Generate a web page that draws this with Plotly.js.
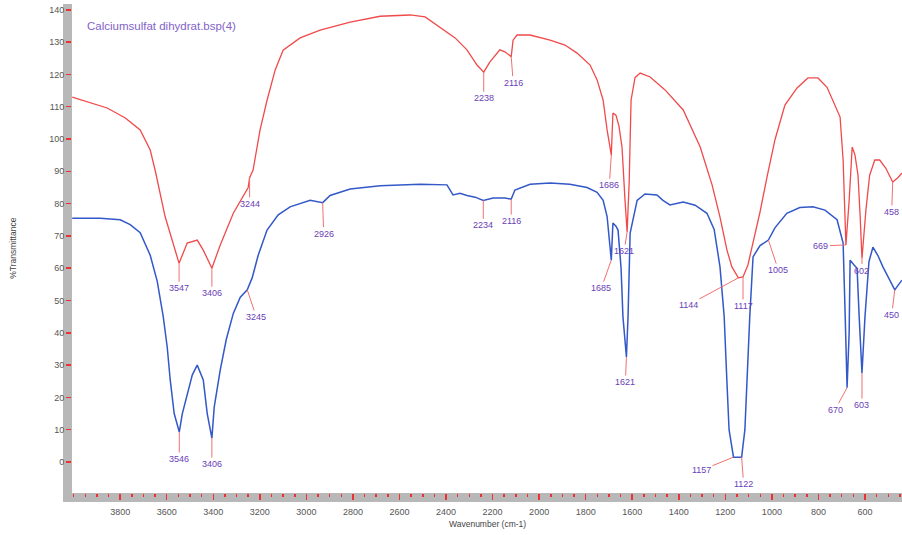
<!DOCTYPE html>
<html>
<head>
<meta charset="utf-8">
<script src="https://cdn.plot.ly/plotly-3.0.1.min.js"></script>
<style>html,body{margin:0;padding:0;background:#fff;}#chart{width:902px;height:535px;}</style>
</head>
<body>
<div id="chart"></div>
<script>
// Red spectrum (upper)
const redWn = [4006,3856,3778,3714,3671,3650,3607,3547,3512,3469,3443,3406,3370,3314,3250,3244,3229,3199,3169,3134,3100,3027,2941,2812,2683,2554,2490,2426,2361,2310,2267,2238,2212,2169,2147,2120,2112,2095,2039,1953,1889,1837,1781,1751,1725,1708,1690,1683,1670,1657,1644,1631,1622,1613,1605,1588,1566,1523,1459,1381,1308,1257,1223,1193,1172,1144,1124,1103,1081,1051,1021,987,944,892,845,802,763,729,707,694,682,668,655,643,630,621,613,596,580,558,537,511,481,459,441];
const redT  = [113,109.6,106.5,102.8,96.6,90.4,76,61.5,67.8,68.7,65.6,60,67.2,77,85,88,90.4,102.8,112,121.4,127.5,131.3,133.7,136.2,138,138.4,137.8,134.7,131.3,127.6,122.9,120.7,123.8,127.6,127,125.5,130.6,132.2,132.2,130.6,129.1,126.6,122.9,118.3,112,102.8,95,108,107.4,104,97.5,81,71.2,87,112,119,120.4,119.2,115.2,109,97.5,85.8,75.8,65.6,60.4,57,57.3,61,67.8,77.4,88.2,99.7,110.5,115.8,118.9,118.9,116,110.5,106.8,93.5,67.2,81,97.5,95,88.8,76.5,63,78,88.8,93.5,93.5,91,86.7,88,89.5];

// Blue spectrum (lower)
const blueWn = [4006,3886,3800,3757,3714,3671,3641,3615,3598,3585,3568,3546,3533,3512,3490,3469,3443,3426,3406,3396,3370,3344,3314,3284,3254,3233,3207,3169,3121,3070,2984,2930,2898,2812,2683,2511,2396,2370,2340,2310,2275,2240,2198,2147,2120,2104,2039,1953,1868,1794,1751,1725,1708,1690,1683,1670,1661,1648,1640,1625,1618,1609,1579,1545,1494,1468,1438,1381,1330,1279,1248,1223,1205,1193,1184,1165,1130,1116,1108,1095,1081,1051,1015,987,936,880,824,772,720,694,685,677,668,664,647,634,625,613,600,583,566,545,523,493,472,455,441];
const blueT  = [75.5,75.5,75,73.5,71,64,56,45,35.6,25.4,15,9.3,15,21,27,30,25.4,15,7.4,17,28.5,38,46,51,53.3,57,64,71.8,76.5,79,81,80.3,82.5,84.5,85.5,86,85.8,82.7,83.2,82.5,82,81,81.7,81.7,81.4,84.2,86,86.4,86,85,83.5,81,76,62.5,74,73,71.8,60,45,32.5,45,70.9,81,83,82.7,81,79.6,80.5,79.5,77,72,60.4,45,24.5,10,1.5,1.5,10,25,45,63.5,67,68.7,72.5,77,78.8,79,78,75,67.8,45,23,40,62.5,61,60,45,27.5,45,62,66.5,64,60.4,56,53.3,55,56.3];

// Peak labels
const redPeakText = ["3547","3406","3244","2238","2116","1686","1621","1144","1117","669","602","458"];
const redPeakWn   = [3547,3406,3244,2238,2120,1690,1622,1144,1124,682,613,481];
const bluePeakText = ["3546","3406","3245","2926","2234","2116","1685","1621","1157","1122","1005","670","603","450"];
const bluePeakWn   = [3546,3406,3254,2930,2240,2120,1690,1625,1165,1130,1015,677,613,472];

const xTickVals = [3800,3600,3400,3200,3000,2800,2600,2400,2200,2000,1800,1600,1400,1200,1000,800,600];
const yTickVals = [-10,0,10,20,30,40,50,60,70,80,90,100,110,120,130,140];

// label offsets (pixels) – styling only
const redOff  = [[0,25],[0,25],[0,26],[0,26],[2,26],[-2,30],[-3,19],[-50,27],[0,29],[-25,1],[0,12],[-1,30]];
const blueOff = [[0,27],[0,26],[9,27],[1,31],[0,25],[0,22],[-10,28],[-1,25],[-32,13],[2,27],[10,30],[-12,22],[0,32],[-3,25]];

function valAt(wns, ts, w){
  let bi=0, bd=1e9;
  for(let i=0;i<wns.length;i++){const d=Math.abs(wns[i]-w); if(d<bd){bd=d;bi=i;}}
  return ts[bi];
}

const labelFont = {family:'Liberation Sans, Arial, sans-serif', size:9, color:'#6a40b8'};
const annotations = [];
redPeakText.forEach((t,i)=>{
  annotations.push({x:redPeakWn[i], y:valAt(redWn,redT,redPeakWn[i]), xref:'x', yref:'y', text:t,
    showarrow:true, arrowhead:0, arrowwidth:1, arrowcolor:'#f07070', ax:redOff[i][0], ay:redOff[i][1],
    standoff:0, startstandoff:0, font:labelFont});
});
bluePeakText.forEach((t,i)=>{
  annotations.push({x:bluePeakWn[i], y:valAt(blueWn,blueT,bluePeakWn[i]), xref:'x', yref:'y', text:t,
    showarrow:true, arrowhead:0, arrowwidth:1, arrowcolor:'#f07070', ax:blueOff[i][0], ay:blueOff[i][1],
    standoff:0, startstandoff:0, font:labelFont});
});
annotations.push({xref:'paper', yref:'paper', x:0.016, y:0.955, xanchor:'left', yanchor:'middle',
  text:'Calciumsulfat dihydrat.bsp(4)', showarrow:false,
  font:{family:'Liberation Sans, Arial, sans-serif', size:11.5, color:'#8262c8'}});
annotations.push({xref:'paper', yref:'paper', x:-0.072, y:0.5, xanchor:'center', yanchor:'middle',
  text:'%Transmittance', textangle:-90, showarrow:false,
  font:{family:'Liberation Sans, Arial, sans-serif', size:8.5, color:'#444'}});
annotations.push({xref:'paper', yref:'paper', x:0.5, y:-0.063, xanchor:'center', yanchor:'middle',
  text:'Wavenumber (cm-1)', showarrow:false,
  font:{family:'Liberation Sans, Arial, sans-serif', size:8.5, color:'#444'}});

const traces = [
  {x:redWn, y:redT, type:'scatter', mode:'lines', line:{color:'#f04a4a', width:1.3}, hoverinfo:'skip'},
  {x:blueWn, y:blueT, type:'scatter', mode:'lines', line:{color:'#3358c8', width:1.5}, hoverinfo:'skip'}
];

const W = 830, H = 489;
const layout = {
  width:902, height:535,
  margin:{l:72, r:0, t:4, b:42, pad:0},
  paper_bgcolor:'#fff', plot_bgcolor:'#fff',
  showlegend:false,
  xaxis:{range:[4007,441], showgrid:false, zeroline:false, showline:false,
    tickvals:xTickVals, ticktext:xTickVals.map(String), ticks:'outside', ticklen:6, tickwidth:1.5, tickcolor:'#f03030',
    minor:{dtick:50, tick0:0, ticks:'outside', ticklen:3, tickwidth:1.5, tickcolor:'#f03030', showgrid:false},
    tickfont:{family:'Liberation Sans, Arial, sans-serif', size:9, color:'#555'}, ticklabelstandoff:4},
  yaxis:{range:[-9.6,141.8], showgrid:false, zeroline:false, showline:false,
    tickvals:yTickVals, ticktext:yTickVals.map(String), ticks:'outside', ticklen:5, tickwidth:1.5, tickcolor:'#f03030',
    tickfont:{family:'Liberation Sans, Arial, sans-serif', size:9, color:'#555'}, ticklabelstandoff:0},
  shapes:[
    {type:'rect', xref:'paper', yref:'paper', x0:-9/W, x1:0, y0:-9/H, y1:1, fillcolor:'#b8b8b8', line:{width:0}, layer:'below'},
    {type:'rect', xref:'paper', yref:'paper', x0:-9/W, x1:1, y0:-9/H, y1:0, fillcolor:'#b8b8b8', line:{width:0}, layer:'below'}
  ],
  annotations:annotations
};
Plotly.newPlot('chart', traces, layout, {staticPlot:true, displayModeBar:false});
</script>
</body>
</html>
